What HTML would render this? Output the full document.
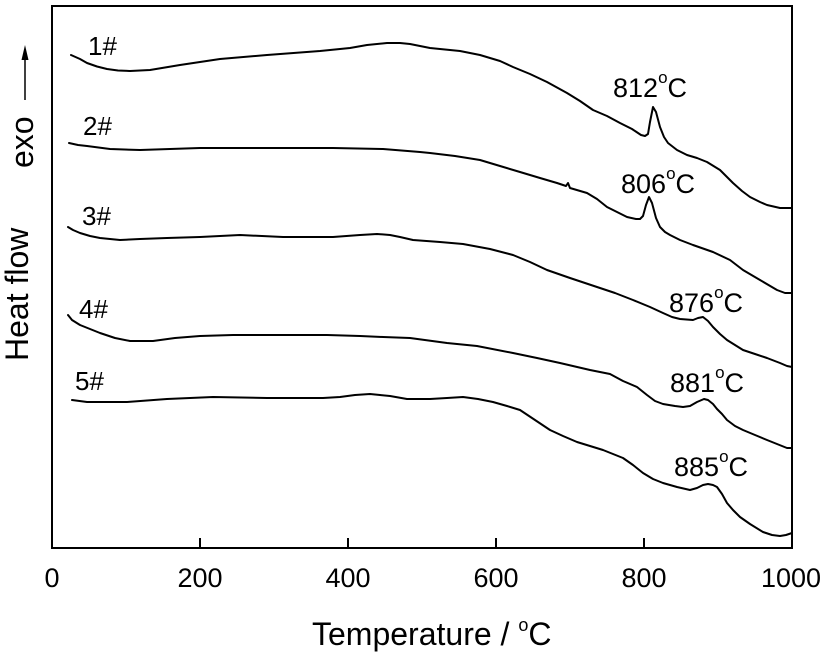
<!DOCTYPE html>
<html>
<head>
<meta charset="utf-8">
<style>
  html, body { margin: 0; padding: 0; background: #fff; }
  svg { display: block; }
  text { font-family: "Liberation Sans", Arial, sans-serif; fill: #000; }
</style>
</head>
<body>
<svg width="827" height="656" viewBox="0 0 827 656" xmlns="http://www.w3.org/2000/svg">
  <rect x="0" y="0" width="827" height="656" fill="#fff"/>
  <!-- frame -->
  <rect x="52" y="6" width="740" height="542" fill="none" stroke="#000" stroke-width="2"/>
  <!-- ticks -->
  <g stroke="#000" stroke-width="2">
    <line x1="200" y1="538" x2="200" y2="548"/>
    <line x1="348" y1="538" x2="348" y2="548"/>
    <line x1="496" y1="538" x2="496" y2="548"/>
    <line x1="644" y1="538" x2="644" y2="548"/>
  </g>
  <!-- tick labels -->
  <g font-size="27" text-anchor="middle">
    <text x="52" y="587">0</text>
    <text x="200" y="587">200</text>
    <text x="348" y="587">400</text>
    <text x="496" y="587">600</text>
    <text x="644" y="587">800</text>
    <text x="791" y="587">1000</text>
  </g>
  <!-- x title -->
  <text x="312" y="645" font-size="32">Temperature / <tspan font-size="18" dy="-14">o</tspan><tspan dy="14">C</tspan></text>
  <!-- y title -->
  <text transform="translate(28,361) rotate(-90)" font-size="32">Heat flow</text>
  <text transform="translate(33,168) rotate(-90)" font-size="32">exo</text>
  <line x1="25" y1="100" x2="25" y2="58" stroke="#000" stroke-width="1.5"/>
  <polygon points="25,45 21.5,60 28.5,60" fill="#000"/>

  <!-- curves -->
  <g fill="none" stroke="#000" stroke-width="2" stroke-linejoin="round" stroke-linecap="round">
    <polyline points="71,55 80,59 87,63 97,66.5 107,69 118,70.5 130,71 150,70 180,65 220,59 267,55 320,51 350,48 367,45 387,43 400,43 410,44 430,48 460,51 480,55 500,61 513,67 530,74 547,82 567,93 580,101 593,110 607,116 620,123 632,129 641,135 645,136 648,134 650,122 653,107 656,112 660,127 664,137 668,143 677,150 687,155 697,158 707,162 720,170 733,183 742,191 750,197 760,202 767,205 780,208 792,208"/>
    <polyline points="69,143 78,145 87,146 110,149 140,150 200,148 267,148 333,148 383,149 420,152 430,153 455,156 480,160 500,166 520,172 540,178 557,183 566,186 568,183 570,188 587,193 597,199 607,207 617,212 627,217 636,219 640,219 643,216 646,205 649,197 652,203 656,218 660,227 665,232 670,235 680,240 693,245 713,252 730,260 743,270 760,280 777,290 785,293 792,293"/>
    <polyline points="68,227 73,230 80,233 90,236 100,238 120,240 140,239 167,238 200,237 240,235 283,237 333,237 360,235 377,234 390,235 400,237 413,240 440,242 463,244 490,249 513,255 530,262 547,270 570,278 597,287 615,293 633,300 650,307 663,313 672,317 680,319 693,320 698,318 703,317 708,321 713,327 720,334 727,340 735,345 743,350 755,354 767,358 780,363 787,366 792,367"/>
    <polyline points="68,315 72,320 80,325 90,329 100,333 115,338 130,341 153,341 175,338 200,336 233,335 280,335 327,335 360,336 383,337 410,338 447,343 477,346 513,353 537,358 560,363 590,370 610,374 623,381 637,387 647,395 655,401 663,404 675,406 683,407 690,406 697,402 704,399 708,400 713,404 717,409 722,414 727,420 735,426 743,430 755,435 767,440 787,448 792,448"/>
    <polyline points="72,400 87,402 127,402 167,399 213,397 267,398 323,398 340,397 355,395 370,394 380,395 390,396 407,399 430,399 447,398 463,397 478,399 493,402 507,406 520,410 535,420 550,430 563,436 577,442 590,446 603,450 613,454 623,458 633,465 643,473 653,479 663,483 677,487 690,490 697,488 703,485 708,484 713,485 717,487 722,494 727,503 733,510 740,517 750,524 763,532 772,535 780,536 786,535 792,533"/>
  </g>

  <!-- curve labels -->
  <g font-size="26">
    <text x="88" y="55">1#</text>
    <text x="83" y="135">2#</text>
    <text x="82" y="225">3#</text>
    <text x="79" y="318">4#</text>
    <text x="75" y="390">5#</text>
  </g>

  <!-- peak annotations -->
  <g font-size="27">
    <text x="613" y="97">812<tspan font-size="17" dy="-14">o</tspan><tspan dy="14">C</tspan></text>
    <text x="621" y="193">806<tspan font-size="17" dy="-14">o</tspan><tspan dy="14">C</tspan></text>
    <text x="669" y="312">876<tspan font-size="17" dy="-14">o</tspan><tspan dy="14">C</tspan></text>
    <text x="670" y="392">881<tspan font-size="17" dy="-14">o</tspan><tspan dy="14">C</tspan></text>
    <text x="674" y="476">885<tspan font-size="17" dy="-14">o</tspan><tspan dy="14">C</tspan></text>
  </g>
</svg>
</body>
</html>
